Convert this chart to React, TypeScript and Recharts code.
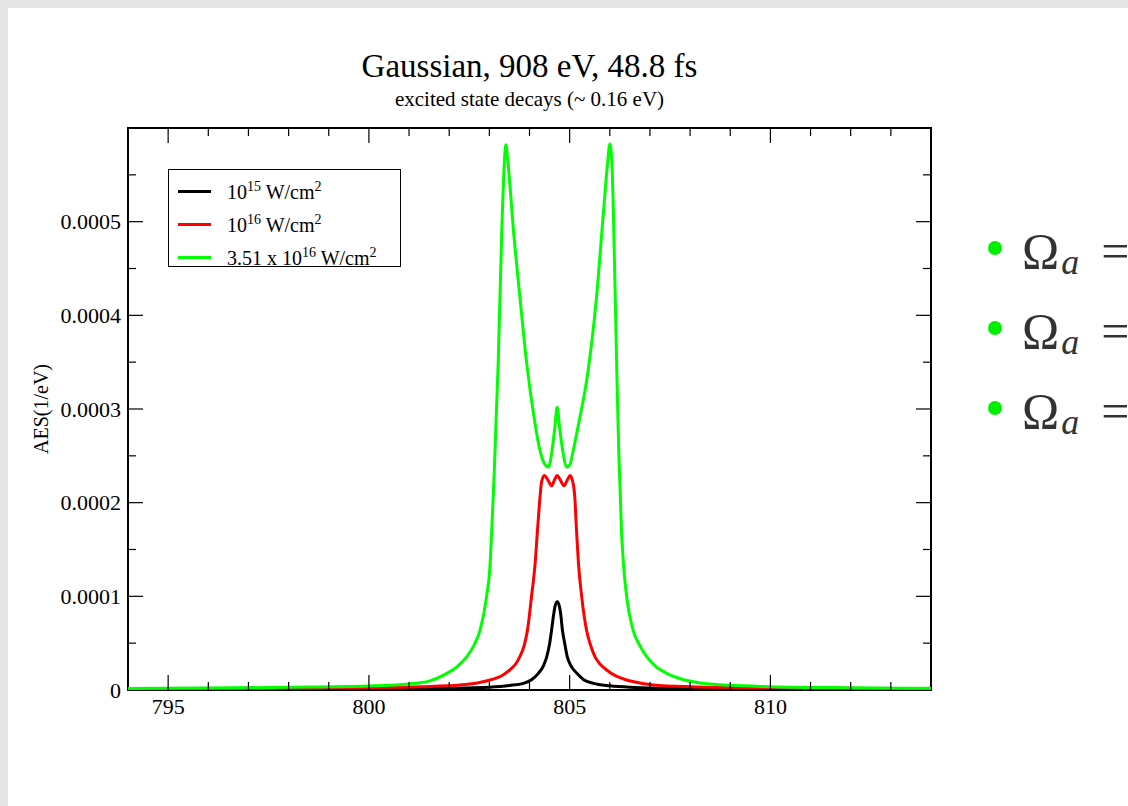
import React from "react";
import { LineChart, Line, XAxis, YAxis, ReferenceArea } from "recharts";

// photon energy (eV) and AES (1/eV)
const blackEnergy = [794, 798, 800, 802, 803, 803.5, 803.85, 804.05, 804.22, 804.35, 804.43, 804.5, 804.55, 804.6, 804.64, 804.69, 804.74, 804.78, 804.82, 804.88, 804.94, 805.03, 805.18, 805.35, 805.59, 806, 806.5, 808, 810, 814];
const blackAES = [0.0000005, 0.0000008, 0.0000011, 0.0000018, 0.000003, 0.0000048, 0.0000071, 0.000011, 0.0000178, 0.000026, 0.0000356, 0.000049, 0.000064, 0.00008, 0.00009, 0.0000943, 0.00009, 0.00008, 0.000064, 0.000049, 0.0000356, 0.000026, 0.0000178, 0.000011, 0.0000071, 0.0000045, 0.000003, 0.0000015, 0.000001, 0.0000005];

const redEnergy = [794, 798, 800, 801.3, 802.27, 802.7, 803.02, 803.3, 803.51, 803.66, 803.76, 803.87, 803.95, 804.05, 804.14, 804.2, 804.26, 804.3, 804.37, 804.46, 804.55, 804.62, 804.69, 804.77, 804.86, 804.94, 805.01, 805.08, 805.13, 805.17, 805.22, 805.3, 805.42, 805.52, 805.63, 805.75, 805.92, 806.15, 806.42, 806.75, 807.08, 808, 810, 814];
const redAES = [0.0000012, 0.0000018, 0.0000026, 0.0000036, 0.0000053, 0.0000075, 0.0000107, 0.000015, 0.0000214, 0.000028, 0.0000356, 0.000048, 0.000064, 0.0000996, 0.000135, 0.000171, 0.000205, 0.000222, 0.000229, 0.000224, 0.000218, 0.000224, 0.000229, 0.000224, 0.000218, 0.000224, 0.000229, 0.000222, 0.000205, 0.000171, 0.000135, 0.0000996, 0.000064, 0.000048, 0.0000356, 0.000028, 0.0000214, 0.000015, 0.0000107, 0.0000075, 0.0000053, 0.0000035, 0.0000023, 0.0000012];

const greenEnergy = [794, 796, 798, 800, 801, 801.5, 801.94, 802.2, 802.44, 802.62, 802.77, 802.93, 803.02, 803.06, 803.12, 803.17, 803.22, 803.31, 803.37, 803.41, 803.47, 803.6, 803.76, 803.93, 804.1, 804.26, 804.38, 804.47, 804.56, 804.63, 804.69, 804.75, 804.83, 804.93, 805.01, 805.09, 805.25, 805.44, 805.67, 805.84, 805.95, 806.0, 806.05, 806.09, 806.17, 806.22, 806.29, 806.34, 806.42, 806.58, 806.74, 806.92, 807.15, 807.42, 807.8, 808.25, 809, 810, 812, 814];
const greenAES = [0.0000016, 0.0000021, 0.0000029, 0.0000043, 0.0000065, 0.0000095, 0.0000178, 0.000025, 0.0000356, 0.000048, 0.000064, 0.0000996, 0.000135, 0.000171, 0.00023, 0.00029, 0.000349, 0.000491, 0.00056, 0.000582, 0.00056, 0.000491, 0.00042, 0.000349, 0.000295, 0.000256, 0.000241, 0.000238, 0.000255, 0.00028, 0.000302, 0.00028, 0.000255, 0.000238, 0.000241, 0.000256, 0.00029, 0.000335, 0.00042, 0.000509, 0.000565, 0.000583, 0.000565, 0.000509, 0.000349, 0.00026, 0.000171, 0.000135, 0.0000996, 0.000064, 0.000048, 0.0000356, 0.000025, 0.0000178, 0.0000115, 0.0000075, 0.000005, 0.0000036, 0.0000024, 0.0000018];

const xTicks = [794, 795, 796, 797, 798, 799, 800, 801, 802, 803, 804, 805, 806, 807, 808, 809, 810, 811, 812, 813, 814];
const yTicks = [0, 0.00005, 0.0001, 0.00015, 0.0002, 0.00025, 0.0003, 0.00035, 0.0004, 0.00045, 0.0005, 0.00055, 0.0006];

const series = [
  { key: "black", base: "10", exp: "15", color: "#000000", energy: blackEnergy, aes: blackAES },
  { key: "red", base: "10", exp: "16", color: "#ff0000", energy: redEnergy, aes: redAES },
  { key: "green", base: "3.51 x 10", exp: "16", color: "#00ff00", energy: greenEnergy, aes: greenAES },
];

const PLOT_W = 803;
const PLOT_H = 562;
const SERIF = "'Liberation Serif', 'Times New Roman', serif";

const toRows = (xs: number[], ys: number[]) => xs.map((e, i) => ({ energy: e, aes: ys[i] }));

const XTick = (props: any) => {
  const { x, y, payload } = props;
  const v = payload.value;
  if (v <= 794 || v >= 814) return <g />;
  const major = v % 5 === 0;
  const len = major ? 15 : 8;
  return (
    <g>
      <line x1={x} y1={y} x2={x} y2={y - len} stroke="#000" strokeWidth={1.2} />
      <line x1={x} y1={y - PLOT_H} x2={x} y2={y - PLOT_H + len} stroke="#000" strokeWidth={1.2} />
      {major && (
        <text x={x} y={y + 24} textAnchor="middle" fontFamily={SERIF} fontSize={22} fill="#000">
          {v}
        </text>
      )}
    </g>
  );
};

const YTick = (props: any) => {
  const { x, y, payload } = props;
  const v = payload.value;
  const step = Math.round(v * 20000);
  if (step >= 12) return <g />;
  const major = step % 2 === 0;
  const len = major ? 15 : 8;
  return (
    <g>
      {step > 0 && (
        <>
          <line x1={x} y1={y} x2={x + len} y2={y} stroke="#000" strokeWidth={1.2} />
          <line x1={x + PLOT_W} y1={y} x2={x + PLOT_W - len} y2={y} stroke="#000" strokeWidth={1.2} />
        </>
      )}
      {major && (
        <text x={x - 7} y={y + 7.5} textAnchor="end" fontFamily={SERIF} fontSize={22} fill="#000">
          {v === 0 ? "0" : v.toFixed(4)}
        </text>
      )}
    </g>
  );
};

const bulletRows = [268, 348, 428];

export default function App() {
  return (
    <div style={{ position: "fixed", left: 0, top: 0, width: 1128, height: 806, background: "#e6e6e6" }}>
      <div style={{ position: "absolute", left: 8, top: 8, width: 1120, height: 798, background: "#fff" }} />
      <div style={{ position: "absolute", left: 0, top: 0 }}>
        <LineChart width={1128} height={806} margin={{ top: 128, right: 197, bottom: 86, left: 68 }}>
          <XAxis
            dataKey="energy"
            type="number"
            domain={[794, 814]}
            allowDataOverflow
            ticks={xTicks}
            interval={0}
            tick={<XTick />}
            tickLine={false}
            tickSize={0}
            tickMargin={0}
            axisLine={false}
            height={30}
          />
          <YAxis
            type="number"
            domain={[0, 0.0006]}
            allowDataOverflow
            ticks={yTicks}
            interval={0}
            tick={<YTick />}
            tickLine={false}
            tickSize={0}
            tickMargin={0}
            axisLine={false}
            width={60}
          />
          <ReferenceArea x1={794} x2={814} y1={0} y2={0.0006} fill="none" stroke="#000" strokeWidth={2} />
          {series.map((s) => (
            <Line
              key={s.key}
              data={toRows(s.energy, s.aes)}
              dataKey="aes"
              type="monotone"
              stroke={s.color}
              strokeWidth={3}
              dot={false}
              activeDot={false}
              isAnimationActive={false}
            />
          ))}
        </LineChart>
      </div>

      {/* legend */}
      <div
        style={{
          position: "absolute",
          left: 168,
          top: 169,
          width: 233,
          height: 98,
          border: "1px solid #000",
          background: "#fff",
          boxSizing: "border-box",
          fontFamily: SERIF,
          fontSize: 20,
          color: "#000",
        }}
      >
        {series.map((s, i) => (
          <div key={s.key} style={{ position: "absolute", left: 9, top: 8 + i * 33, height: 26, display: "flex", alignItems: "center", whiteSpace: "nowrap" }}>
            <div style={{ width: 33, height: 3, background: s.color, marginRight: 16 }} />
            <span>
              {s.base}
              <sup style={{ fontSize: 14 }}>{s.exp}</sup> W/cm<sup style={{ fontSize: 14 }}>2</sup>
            </span>
          </div>
        ))}
      </div>

      <svg width={1128} height={806} style={{ position: "absolute", left: 0, top: 0, pointerEvents: "none" }}>
        <text x={529.5} y={77} textAnchor="middle" fontFamily={SERIF} fontSize={33} fill="#000">
          Gaussian, 908 eV, 48.8 fs
        </text>
        <text x={529.5} y={106} textAnchor="middle" fontFamily={SERIF} fontSize={21} fill="#000">
          excited state decays (~ 0.16 eV)
        </text>
        <text x={48} y={409} transform="rotate(-90 48 409)" textAnchor="middle" fontFamily={SERIF} fontSize={20} fill="#000">
          AES(1/eV)
        </text>
        {bulletRows.map((by) => (
          <g key={by}>
            <circle cx={995} cy={by - 20} r={7} fill="#00ee00" />
            <text x={1022} y={by} fontFamily={SERIF} fontSize={50} fill="#333">
              Ω
              <tspan fontStyle="italic" fontSize={36} dx={2} dy={6}>a</tspan>
              <tspan fontSize={50} dy={-6} dx={22}>=</tspan>
            </text>
          </g>
        ))}
      </svg>
    </div>
  );
}
